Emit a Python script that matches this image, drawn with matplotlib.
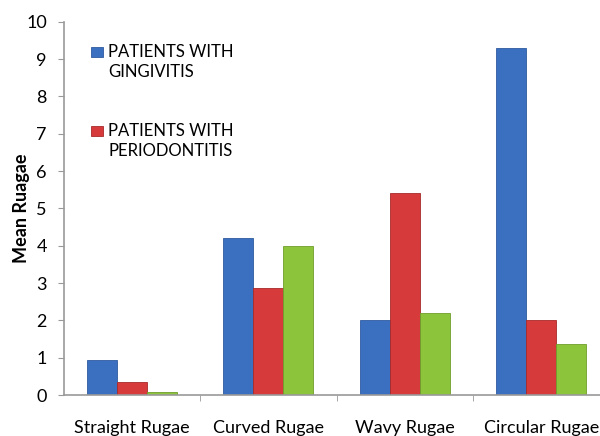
import matplotlib.pyplot as plt
from matplotlib.patches import Rectangle
import numpy as np

categories = ["Straight Rugae", "Curved Rugae", "Wavy Rugae", "Circular Rugae"]
gingivitis = [0.93, 4.2, 2.0, 9.3]
periodontitis = [0.35, 2.86, 5.4, 2.0]
third_group = [0.07, 4.0, 2.2, 1.38]
legend_labels = ["PATIENTS WITH\nGINGIVITIS", "PATIENTS WITH\nPERIODONTITIS"]

plt.rcParams['font.family'] = ['Lato', 'DejaVu Sans']

fig = plt.figure(figsize=(6, 4.36), dpi=100)
ax = fig.add_axes([0.106, 0.094, 0.91, 0.856])

colors = ['#3B6FBF', '#D63A3A', '#8CC43C']
edges = ['#2E5A9E', '#A82A2A', '#6E9E2C']

x = np.arange(len(categories))
w = 0.22
for i, vals in enumerate([gingivitis, periodontitis, third_group]):
    ax.bar(x + (i - 1) * w, vals, w, color=colors[i], edgecolor=edges[i], linewidth=0.6)

ax.set_xlim(-0.5, 3.5)
ax.set_ylim(0, 10)
ax.set_yticks(range(0, 11))
ax.set_xticks(x)
ax.set_xticklabels(categories, fontsize=13)
ax.set_xticks([0.5, 1.5, 2.5], minor=True)
ax.tick_params(axis='x', which='major', length=0, pad=18)
ax.tick_params(axis='x', which='minor', length=4, color='#999999')
ax.tick_params(axis='y', length=4, color='#999999', labelsize=13, pad=8)

for s in ['top', 'right']:
    ax.spines[s].set_visible(False)
for s in ['left', 'bottom']:
    ax.spines[s].set_color('#999999')
    ax.spines[s].set_linewidth(1.2)

ax.set_ylabel("Mean Ruagae", fontsize=13, fontweight='bold')
ax.yaxis.set_label_coords(-0.062, 0.5)

# legend drawn by hand so the square sits on the first text line
for i, lab in enumerate(legend_labels):
    top = 47 + i * 79  # pixel rows from the top of the figure
    fig.patches.append(Rectangle((91 / 600, 1 - (top + 10) / 436), 12 / 600, 10 / 436,
                                 transform=fig.transFigure, facecolor=colors[i],
                                 edgecolor=edges[i], linewidth=0.6))
    fig.text(108 / 600, 1 - (top - 3) / 436, lab, fontsize=12, va='top', ha='left',
             linespacing=1.3)

fig.savefig("out.png", dpi=100)
